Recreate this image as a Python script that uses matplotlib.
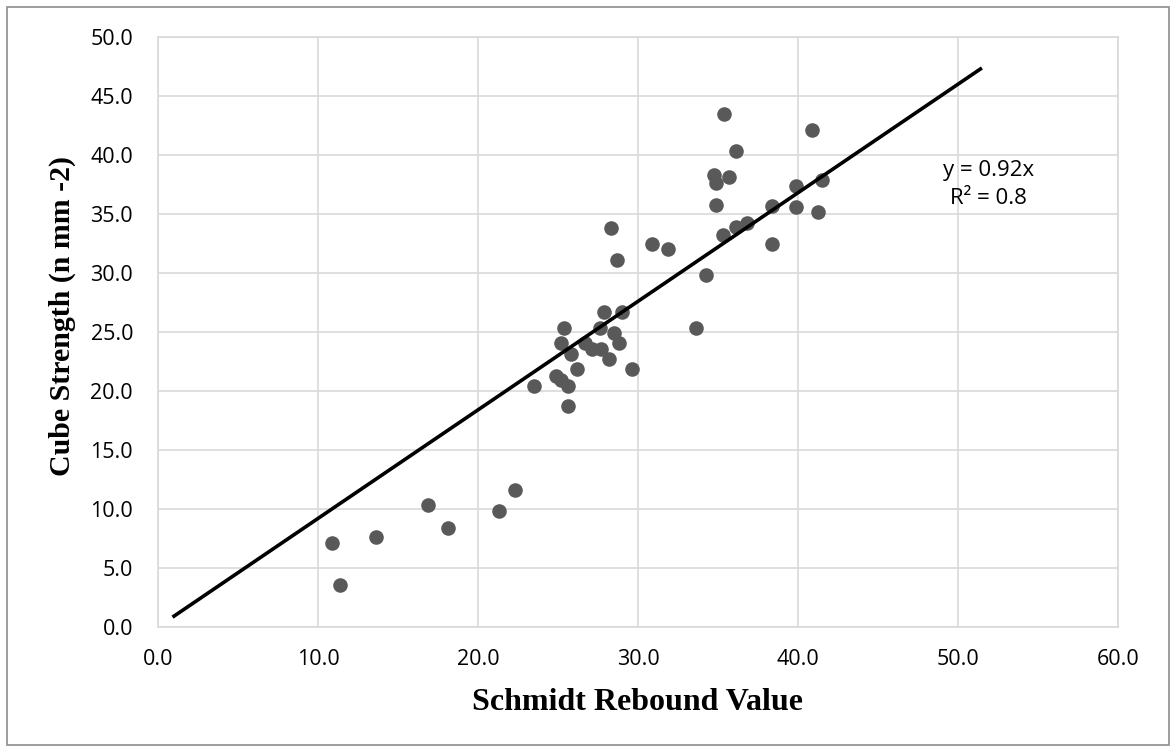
import numpy as np
import matplotlib.pyplot as plt
from matplotlib.patches import Rectangle

# Schmidt rebound value vs cube strength
rebound = [10.9, 11.4, 13.6, 16.9, 18.1, 21.3, 22.3,
           23.5, 24.9, 25.2, 25.6, 25.6, 25.4, 25.2, 25.8, 26.2, 26.7, 27.1,
           27.6, 27.9, 27.7, 28.5, 28.2, 28.8, 29.0, 29.6, 33.6,
           28.3, 28.7, 30.9, 31.9, 34.25,
           35.4, 36.1, 34.75, 34.9, 35.7, 34.9, 35.3, 36.1, 36.8,
           38.4, 38.4, 40.9, 39.9, 39.9, 41.5, 41.25]
strength = [7.1, 3.6, 7.6, 10.3, 8.4, 9.8, 11.6,
            20.4, 21.3, 20.9, 20.4, 18.7, 25.3, 24.1, 23.1, 21.9, 24.1, 23.6,
            25.3, 26.7, 23.6, 24.9, 22.7, 24.1, 26.7, 21.9, 25.3,
            33.8, 31.1, 32.5, 32.0, 29.8,
            43.5, 40.3, 38.3, 37.6, 38.1, 35.8, 33.2, 33.9, 34.2,
            35.7, 32.5, 42.1, 37.4, 35.6, 37.9, 35.2]

slope = 0.92
trend_x = np.array([1.0, 51.4])

x_ticks = [0, 10, 20, 30, 40, 50, 60]
y_ticks = [0, 5, 10, 15, 20, 25, 30, 35, 40, 45, 50]

fig = plt.figure(figsize=(11.76, 7.52), dpi=100)
ax = fig.add_axes([158/1176, 1-627/752, 960/1176, 590/752])

ax.scatter(rebound, strength, s=110, color='#595959', zorder=3, linewidths=0)
ax.plot(trend_x, slope*trend_x, color='black', linewidth=2.6, zorder=4)

ax.set_xlim(0, 60)
ax.set_ylim(0, 50)
ax.set_xticks(x_ticks)
ax.set_yticks(y_ticks)
ax.set_xticklabels([f"{v:.1f}" for v in x_ticks])
ax.set_yticklabels([f"{v:.1f}" for v in y_ticks])
ax.tick_params(length=0, labelsize=15.5, colors='black')
ax.tick_params(axis='y', pad=18)
ax.tick_params(axis='x', pad=16)
for lab in ax.get_xticklabels() + ax.get_yticklabels():
    lab.set_family('Open Sans')
ax.grid(True, color='#d9d9d9', linewidth=1.2)
ax.set_axisbelow(True)
for sp in ax.spines.values():
    sp.set_color('#d9d9d9')
    sp.set_linewidth(1.2)

# axis titles placed like the Excel original
fig.text(638/1176, 1-703/752, "Schmidt Rebound Value", family='Liberation Serif',
         fontweight='bold', fontsize=23, ha='center', va='center')
fig.text(62/1176, 1-316/752, "Cube Strength (n mm -2)", family='Liberation Serif',
         fontweight='bold', fontsize=21.5, ha='center', va='center', rotation=90)

ax.text(51.9, 37.5, "y = 0.92x\nR² = 0.8", ha='center', va='center',
        family='Open Sans', fontsize=16, linespacing=1.4)

fig.patches.append(Rectangle((7/1176, 7/752), 1-14/1176, 1-14/752, transform=fig.transFigure,
                             fill=False, edgecolor='#8c8c8c', linewidth=1.2))

fig.savefig("out.png", dpi=100)
